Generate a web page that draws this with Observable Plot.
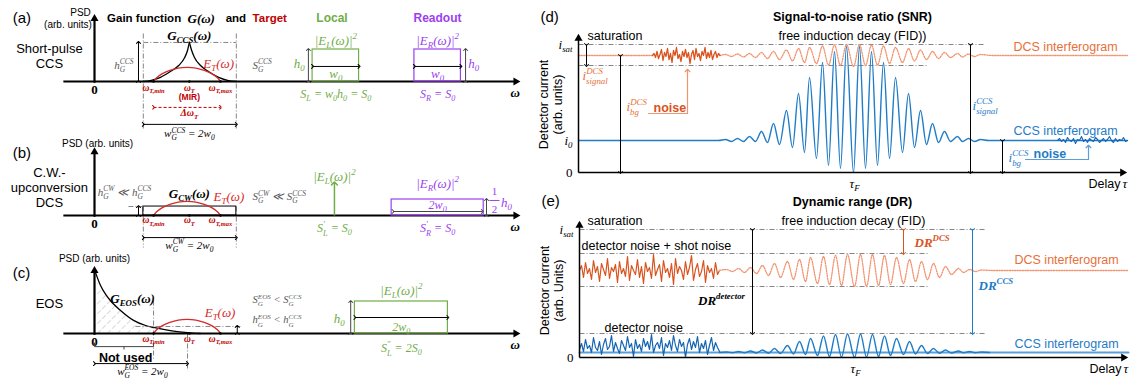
<!DOCTYPE html>
<html>
<head>
<meta charset="utf-8">
<script src="https://cdn.jsdelivr.net/npm/d3@7"></script>
<script src="https://cdn.jsdelivr.net/npm/@observablehq/plot@0.6"></script>
<style>
html,body{margin:0;padding:0;background:#fff;}
#fig{position:relative;width:1135px;height:379px;overflow:hidden;background:#fff;}
</style>
</head>
<body>
<div id="fig"></div>
<script>
// ===== DATA: panels (a)-(c): angular frequency ω in units of w0, PSD in units of h0 =====
const omegaTargets = [1.27, 2.04, 2.71];
const omegaTargetLabels = ["ω_{T,min}", "ω_{T}", "ω_{T,max}"];
const gainWindow = [1.05, 3.05];
const gCcsLeftOmega  = [1.05, 1.2, 1.42, 1.63, 1.81, 1.94, 2.0, 2.04];
const gCcsLeftPsd    = [0, 0.03, 0.13, 0.31, 0.5, 0.75, 0.97, 1.22];
const gCcsRightOmega = [2.04, 2.09, 2.15, 2.28, 2.45, 2.67, 2.88, 3.05];
const gCcsRightPsd   = [1.22, 0.97, 0.75, 0.5, 0.31, 0.13, 0.03, 0];
const gCwHeight = 0.28;
const gEosOmega = [0.02, 0.13, 0.24, 0.34, 0.56, 0.84, 1.10, 1.27, 1.63, 2.0, 2.28];
const gEosPsd   = [1.91, 1.5, 1.22, 1.03, 0.72, 0.41, 0.25, 0.19, 0.09, 0.03, 0];
const gEosHeight = 0.22;
const targetOmega = [1.27, 1.33, 1.45, 1.62, 1.8, 1.99, 2.18, 2.36, 2.53, 2.65, 2.71];
const targetPsd   = [0, 0.11, 0.24, 0.35, 0.42, 0.44, 0.42, 0.35, 0.24, 0.11, 0];
const h0 = 1;
const localBoxA = [4.69, 5.69];
const readoutBoxA = [6.88, 7.88];
const localLineB = 5.16;
const readoutBoxB = [6.39, 8.37];
const readoutHeightB = 0.5;
const localBoxC = [5.6, 7.6];
const notUsedRange = [0, 1.27];
const eosWindow = [0, 2.0];

// ===== DATA: panels (d)-(e): delay τ and detector current, arbitrary units =====
const tauMax = 549;
const tauF = 275;
const iSat = 128, i0Snr = 32, dcsLevelSnr = 117, dcsLowSnr = 107;
const dcsHighDr = 104, dcsLevelDr = 87, dcsLowDr = 71, detNoiseDr = 24, ccsLevelDr = 5;
const extremaTau = [147,153,159,165,171,177,183,189,195,201,208,214,220,226,231,238,244,250,256,262,268,275,281,287,293,299,305,311,317,324,330,336,342,348,354,360,366,372,379,384,390,396,402];
const ccsSnr = [33,31,34,31,36,31,41,30,49,28,62,25,79,20,95,14,110,7,121,4,126,0,126,4,121,7,110,14,95,20,79,25,62,28,49,30,41,31,36,31,34,31,33];
const dcsSnr = [118,116,118.5,115.5,119,115,120,114,121,113,122.5,111.5,124,110,125,109,126.5,107.5,127.5,107,128,106,128,107,127.5,107.5,126.5,109,125,110,124,111.5,122.5,113,121,114,120,115,119,115.5,118.5,116,118];
const ccsDr = [5.5,4.8,6,4.6,6.5,4.5,7.5,4.2,9,4,12,3.5,16,3,19,2,21.5,1,23,0.5,23.5,0,23.5,0.5,23,1,21.5,2,19,3,16,3.5,12,4,9,4.2,7.5,4.5,6.5,4.6,6,4.8,5.5];
const dcsDr = [88,86,89,85,90,84,92,82,94,80,96,78,98,76,100,74,101,73,102,72,103,71,103,71,103,72,102,73,100,74,98,76,96,78,94,80,91,83,89,85,88,86,87.5];
// noise traces (sample start, sample step, values)
const noiseDcsSnrStart = 74, noiseDcsSnrStep = 1.5;
const noiseDcsSnr = [117,119,115,121,114,118,123,112,120,116,124,113,119,110,122,117,125,114,118,111,121,116,123,115,120,109,118,122,113,124,116,119,112,121,117,125,114,120,115,122,113,118,121,115,119,117];
const noiseCcsSnrStart = 479, noiseCcsSnrStep = 2;
const noiseCcsSnr = [32,34,31,33,30,35,32,31,34,29,33,32,36,31,33,30,34,32,31,35,33,30,32,34,31,33,36,32,30,34,31,33,32,35,31,32];
const noiseDrStart = 0, noiseDrStep = 2;
const noiseDcsDr = [87,92,80,95,84,89,78,97,85,91,76,94,88,82,99,79,90,86,93,75,96,84,89,81,101,77,92,87,83,98,80,91,74,95,86,90,79,103,82,88,93,76,97,85,89,80,94,73,99,84,91,87,78,96,83,90,102,77,88,94,81,86,97,75,92,85,89,79,95,83,87];
const noiseCcsDr = [8,14,6,18,9,12,5,20,10,7,16,3,13,19,8,11,22,6,15,9,4,17,12,7,21,10,14,1,18,9,13,6,19,11,16,8,23,5,12,15,9,20,2,14,10,17,7,22,12,6,18,11,15,0,13,19,8,16,10,21,5,14,9,17,3,12,20,7,15,10,6];

// ===== STYLE =====
const SANS = "'Liberation Sans', Arial, sans-serif";
const SERIF = "'Liberation Serif', 'Times New Roman', serif";
const GREEN = "#70ad47", PURPLE = "#9b3ff0", RED = "#c00000", RED_CURVE = "#d42b2b";
const ORANGE_TEXT = "#e8703a", ORANGE_NOISE = "#d9531e", ORANGE_DOT = "#f29470";
const BLUE = "#1f7cc7", BLUE_DARK = "#1565b3", BLUE_LIGHT = "#5a9fd8";
const GRAY = "#595959";

// ===== helpers =====
function txt(x, y, text, o = {}) {
  return Plot.text([{x, y, text}], {x: "x", y: "y", text: "text", fontFamily: SANS, fontSize: 12, fill: "black", ...o});
}
function mtxt(x, y, text, o = {}) {
  return txt(x, y, text, {fontFamily: SERIF, fontStyle: "italic", fontSize: 13, ...o});
}
function seg(x1, y1, x2, y2, o = {}) {
  return Plot.link([{x1, y1, x2, y2}], {x1: "x1", y1: "y1", x2: "x2", y2: "y2", stroke: "black", strokeWidth: 1, ...o});
}
const dbl = (x1, y1, x2, y2, o = {}) => seg(x1, y1, x2, y2, {markerStart: "arrow", markerEnd: "arrow", ...o});
const one = (x1, y1, x2, y2, o = {}) => seg(x1, y1, x2, y2, {markerEnd: "arrow", ...o});
const dashdot = (x1, y1, x2, y2, o = {}) => seg(x1, y1, x2, y2, {stroke: "#666", strokeWidth: 0.8, strokeDasharray: "5,2,1,2", ...o});
const tri = (x, y, rotate) => Plot.dot([{x, y}], {x: "x", y: "y", symbol: "triangle", r: 3, fill: "black", stroke: "none", rotate});
const pts = (xs, ys) => xs.map((x, k) => ({x, y: ys[k]}));
const path = (xs, ys, o = {}) => Plot.line(pts(xs, ys), {x: "x", y: "y", stroke: "black", strokeWidth: 1.3, ...o});
const box = (x1, x2, y1, y2, o = {}) => Plot.rect([{x1, x2, y1, y2}], {x1: "x1", x2: "x2", y1: "y1", y2: "y2", fill: "none", stroke: "black", strokeWidth: 1.2, ...o});
const noiseTau = (start, step, vals) => vals.map((_, k) => start + step * k);

// layout of the left column (pixels)
const originPx = 94, pxPerW0 = 46.5, baselinePx = 81, pxPerH0 = 32, leftW = 540, leftH = 130;
const omegaDomain = [-originPx / pxPerW0, (leftW - originPx) / pxPerW0];
const psdDomain = [(baselinePx - leftH) / pxPerH0, baselinePx / pxPerH0];

function leftPanel(top, marks) {
  return Plot.plot({
    width: leftW, height: leftH, margin: 0,
    x: {domain: omegaDomain, axis: null}, y: {domain: psdDomain, axis: null},
    style: `position:absolute;left:0px;top:${top}px;background:transparent;overflow:visible;`,
    marks: marks.flat()
  });
}
function rightPanel(top, height, marginLeft, marginBottom, yMax, marks) {
  return Plot.plot({
    width: 595, height, marginLeft, marginRight: 595 - marginLeft - tauMax, marginTop: 0, marginBottom,
    x: {domain: [0, tauMax], axis: null}, y: {domain: [0, yMax], axis: null},
    style: `position:absolute;left:540px;top:${top}px;background:transparent;overflow:visible;`,
    marks: marks.flat()
  });
}
function leftAxes(yTop) {
  return [
    seg(-0.67, 0, 9.06, 0, {strokeWidth: 2.2}), tri(9.06, 0, 90),
    seg(0, -0.04, 0, yTop, {strokeWidth: 2.2}), tri(0, yTop, 0),
    txt(0, -0.27, "0", {fontFamily: SERIF, fontWeight: "bold", fontSize: 13}),
    mtxt(9.05, -0.34, "ω", {fontWeight: "bold"}),
    Plot.dot(omegaTargets, {x: d => d, y: () => 0, r: 1.3, fill: "black"})
  ];
}
function targetLabels(y) {
  return omegaTargets.map((w, k) => mtxt(w, y, omegaTargetLabels[k], {fill: RED, fontWeight: "bold", fontSize: 9.5}));
}
const gPeak = d3.max(gCcsLeftPsd);
const midA = (localBoxA[0] + localBoxA[1]) / 2, midRA = (readoutBoxA[0] + readoutBoxA[1]) / 2;
const midRB = (readoutBoxB[0] + readoutBoxB[1]) / 2, midC = (localBoxC[0] + localBoxC[1]) / 2;

// ---------- (a) ----------
const marksA = [
  dashdot(gainWindow[0], 1.5, gainWindow[0], -1.53), dashdot(gainWindow[1], 1.5, gainWindow[1], -1.53),
  dashdot(gainWindow[0], gPeak, gainWindow[1], gPeak),
  path(gCcsLeftOmega, gCcsLeftPsd, {curve: "monotone-x"}),
  path(gCcsRightOmega, gCcsRightPsd, {curve: "monotone-x"}),
  path(targetOmega, targetPsd, {stroke: RED_CURVE, curve: "catmull-rom"}),
  leftAxes(1.96),
  dbl(0.946, 0, 0.946, gPeak),
  dbl(omegaTargets[0], -0.81, omegaTargets[2], -0.81, {stroke: RED, strokeDasharray: "3,2"}),
  dbl(gainWindow[0], -1.34, gainWindow[1], -1.34),
  box(localBoxA[0], localBoxA[1], 0, h0, {stroke: GREEN}),
  box(readoutBoxA[0], readoutBoxA[1], 0, h0, {stroke: PURPLE}),
  dbl(4.60, 0, 4.60, h0, {stroke: "#444"}),
  dbl(localBoxA[0], 0.47, localBoxA[1], 0.47),
  dbl(readoutBoxA[0], 0.47, readoutBoxA[1], 0.47),
  dbl(7.98, 0, 7.98, h0, {stroke: "#444"}),
  txt(-1.76, 1.97, "(a)", {textAnchor: "start", fontSize: 15}),
  txt(-0.30, 2.16, "PSD", {fontSize: 10}),
  txt(-0.57, 1.78, "(arb. units)", {fontSize: 10}),
  txt(-0.97, 1.03, "Short-pulse", {fontSize: 13}),
  txt(-0.97, 0.56, "CCS", {fontSize: 13}),
  txt(0.27, 1.97, "Gain function", {textAnchor: "start", fontWeight: "bold", fontSize: 11.5}),
  mtxt(2.0, 1.97, "G(ω)", {textAnchor: "start", fontWeight: "bold"}),
  txt(2.82, 1.97, "and", {textAnchor: "start", fontWeight: "bold", fontSize: 11.5}),
  txt(3.40, 1.97, "Target", {textAnchor: "start", fontWeight: "bold", fill: RED, fontSize: 11.5}),
  txt(4.77, 1.97, "Local", {textAnchor: "start", fontWeight: "bold", fill: GREEN}),
  txt(6.86, 1.97, "Readout", {textAnchor: "start", fontWeight: "bold", fill: PURPLE}),
  mtxt(2.04, 1.44, "G_{CCS}(ω)", {fontWeight: "bold"}),
  mtxt(2.34, 0.56, "E_{T}(ω)", {textAnchor: "start", fill: RED_CURVE}),
  mtxt(0.84, 0.5, "h^{CCS}_{G}", {textAnchor: "end", fill: GRAY, fontSize: 11}),
  mtxt(3.40, 0.5, "S^{CCS}_{G}", {textAnchor: "start", fill: GRAY, fontSize: 11}),
  targetLabels(-0.19),
  txt(2.04, -0.5, "(MIR)", {fill: RED, fontWeight: "bold", fontSize: 8.5}),
  mtxt(2.04, -0.99, "Δω_{T}", {fill: RED, fontWeight: "bold", fontSize: 10}),
  mtxt(2.04, -1.63, "w^{CCS}_{G} = 2w_{0}", {fontSize: 11}),
  mtxt(midA, 1.28, "|E_{L}(ω)|^{2}", {fill: GREEN}),
  mtxt(4.52, 0.56, "h_{0}", {textAnchor: "end", fill: GREEN}),
  mtxt(midA, 0.25, "w_{0}", {fill: GREEN}),
  mtxt(midA, -0.41, "S_{L} = w_{0}h_{0} = S_{0}", {fill: GREEN, fontSize: 12}),
  mtxt(midRA, 1.28, "|E_{R}(ω)|^{2}", {fill: PURPLE}),
  mtxt(midRA, 0.25, "w_{0}", {fill: PURPLE}),
  mtxt(8.04, 0.56, "h_{0}", {textAnchor: "start", fill: PURPLE}),
  mtxt(midRA, -0.41, "S_{R} = S_{0}", {fill: PURPLE, fontSize: 12})
];

// ---------- (b) ----------
const marksB = [
  dashdot(gainWindow[0], gCwHeight, gainWindow[0], -1.0), dashdot(gainWindow[1], gCwHeight, gainWindow[1], -1.0),
  box(gainWindow[0], gainWindow[1], 0, gCwHeight, {strokeWidth: 1}),
  dashdot(0.73, gCwHeight, gainWindow[0], gCwHeight),
  dbl(0.946, 0, 0.946, gCwHeight),
  path(targetOmega, targetPsd, {stroke: RED_CURVE, curve: "catmull-rom"}),
  leftAxes(1.99),
  dbl(gainWindow[0], -0.69, gainWindow[1], -0.69),
  one(localLineB, 0, localLineB, h0, {stroke: GREEN, strokeWidth: 1.5}),
  box(readoutBoxB[0], readoutBoxB[1], 0, readoutHeightB, {stroke: PURPLE}),
  dbl(6.42, 0.125, 8.34, 0.125, {stroke: "#444"}),
  dbl(8.43, 0, 8.43, readoutHeightB, {stroke: "#444"}),
  seg(8.49, 0.47, 8.71, 0.47, {stroke: PURPLE}),
  txt(-1.76, 1.94, "(b)", {textAnchor: "start", fontSize: 15}),
  txt(0.065, 2.25, "PSD (arb. units)", {fontSize: 10}),
  txt(-0.97, 1.34, "C.W.-", {fontSize: 13}),
  txt(-0.97, 0.875, "upconversion", {fontSize: 13}),
  txt(-0.97, 0.41, "DCS", {fontSize: 13}),
  mtxt(0.645, 0.72, "h^{CW}_{G} ≪ h^{CCS}_{G}", {fill: GRAY, fontSize: 11}),
  mtxt(2.04, 0.69, "G_{CW}(ω)", {fontWeight: "bold"}),
  mtxt(2.56, 0.59, "E_{T}(ω)", {textAnchor: "start", fill: RED_CURVE}),
  mtxt(3.40, 0.59, "S^{CW}_{G} ≪ S^{CCS}_{G}", {textAnchor: "start", fill: GRAY, fontSize: 11}),
  targetLabels(-0.15),
  mtxt(2.04, -0.93, "w^{CW}_{G} = 2w_{0}", {fontSize: 11}),
  mtxt(localLineB, 1.22, "|E_{L}(ω)|^{2}", {fill: GREEN}),
  mtxt(localLineB, -0.41, "S^{′}_{L} = S_{0}", {fill: GREEN, fontSize: 12}),
  mtxt(midRB, 1.0, "|E_{R}(ω)|^{2}", {fill: PURPLE}),
  mtxt(midRB, 0.31, "2w_{0}", {fill: PURPLE, fontSize: 12}),
  txt(8.6, 0.74, "1", {fill: PURPLE, fontFamily: SERIF, fontSize: 11}),
  txt(8.6, 0.2, "2", {fill: PURPLE, fontFamily: SERIF, fontSize: 11}),
  mtxt(8.74, 0.4, "h_{0}", {textAnchor: "start", fill: PURPLE}),
  mtxt(midRB, -0.41, "S^{′}_{R} = S_{0}", {fill: PURPLE, fontSize: 12})
];

// ---------- (c) ----------
const hatchN = gEosOmega.indexOf(notUsedRange[1]) + 1;
const marksC = [
  Plot.areaY(pts(gEosOmega.slice(0, hatchN), gEosPsd.slice(0, hatchN)), {x: "x", y: "y", fill: "url(#hatch)", curve: "monotone-x"}),
  path(gEosOmega, gEosPsd, {curve: "monotone-x"}),
  dashdot(0.88, gEosHeight, 3.18, gEosHeight),
  dbl(3.07, 0, 3.07, gEosHeight),
  dashdot(notUsedRange[1], 1.03, notUsedRange[1], -0.78),
  dashdot(eosWindow[1], 0, eosWindow[1], -1.16),
  path(targetOmega, targetPsd, {stroke: RED_CURVE, curve: "catmull-rom"}),
  leftAxes(1.96),
  Plot.line(pts([notUsedRange[0], notUsedRange[0], notUsedRange[1], notUsedRange[1]], [-0.3, -0.41, -0.41, -0.3]), {x: "x", y: "y", stroke: "#444", strokeWidth: 1}),
  seg((notUsedRange[0] + notUsedRange[1]) / 2, -0.41, (notUsedRange[0] + notUsedRange[1]) / 2, -0.5, {stroke: "#444"}),
  dbl(eosWindow[0], -0.94, eosWindow[1], -0.94),
  box(localBoxC[0], localBoxC[1], 0, h0, {stroke: GREEN}),
  dbl(5.51, 0, 5.51, h0, {stroke: "#444"}),
  dbl(localBoxC[0], 0.5, localBoxC[1], 0.5),
  txt(-1.76, 1.9, "(c)", {textAnchor: "start", fontSize: 15}),
  txt(0, 2.34, "PSD (arb. units)", {fontSize: 10}),
  txt(-0.97, 0.94, "EOS", {fontSize: 13}),
  mtxt(0.34, 1.09, "G_{EOS}(ω)", {textAnchor: "start", fontWeight: "bold"}),
  mtxt(2.37, 0.66, "E_{T}(ω)", {textAnchor: "start", fill: RED_CURVE}),
  mtxt(3.40, 1.05, "S^{EOS}_{G} < S^{CCS}_{G}", {textAnchor: "start", fill: GRAY, fontSize: 10.5}),
  mtxt(3.40, 0.42, "h^{EOS}_{G} < h^{CCS}_{G}", {textAnchor: "start", fill: GRAY, fontSize: 10.5}),
  targetLabels(-0.17),
  txt(0.67, -0.75, "Not used", {fontWeight: "bold", fontSize: 12.5}),
  mtxt(1.03, -1.18, "w^{EOS}_{G} = 2w_{0}", {fontSize: 11}),
  mtxt(midC, 1.34, "|E_{L}(ω)|^{2}", {fill: GREEN}),
  mtxt(5.38, 0.47, "h_{0}", {textAnchor: "end", fill: GREEN}),
  mtxt(midC, 0.2, "2w_{0}", {fill: GREEN, fontSize: 12}),
  mtxt(midC, -0.47, "S^{″}_{L} = 2S_{0}", {fill: GREEN, fontSize: 12})
];

// ---------- (d) ----------
const DOT = {stroke: ORANGE_DOT, strokeWidth: 1.3, strokeDasharray: "1.3,1.3"};
const noiseDcsSnrTau = noiseTau(noiseDcsSnrStart, noiseDcsSnrStep, noiseDcsSnr);
const lastNoiseTau = noiseDcsSnrTau[noiseDcsSnrTau.length - 1];
function rightAxes(yTop) {
  return [
    seg(0, 0, tauMax - 5, 0, {strokeWidth: 1.5}), tri(tauMax - 5, 0, 90),
    seg(0, 0, 0, yTop, {strokeWidth: 1.5}), tri(0, yTop, 0),
    mtxt(-6, 0, "0", {textAnchor: "end", fontStyle: "normal"}),
    mtxt(-6, iSat, "i_{sat}", {textAnchor: "end"}),
    mtxt(tauF + 1, -11, "τ_{F}"),
    txt(tauMax - 7, -11, "Delay", {textAnchor: "end", fontSize: 12.5}),
    mtxt(tauMax - 5, -11, "τ", {textAnchor: "start"})
  ];
}
const marksD = [
  dashdot(0, iSat, 407, iSat),
  dashdot(0, dcsLowSnr, 349, dcsLowSnr),
  path([0, noiseDcsSnrStart], [dcsLevelSnr, dcsLevelSnr], DOT),
  path([lastNoiseTau, ...extremaTau, 414, tauMax], [dcsLevelSnr, ...dcsSnr, dcsLevelSnr, dcsLevelSnr], {...DOT, curve: "monotone-x"}),
  path(noiseDcsSnrTau, noiseDcsSnr, {stroke: ORANGE_NOISE, strokeWidth: 1.3}),
  path([0, 140, ...extremaTau, 410, tauMax], [i0Snr, i0Snr, ...ccsSnr, i0Snr, i0Snr], {stroke: BLUE, strokeWidth: 1.4, curve: "monotone-x"}),
  path(noiseTau(noiseCcsSnrStart, noiseCcsSnrStep, noiseCcsSnr), noiseCcsSnr, {stroke: BLUE_DARK, strokeWidth: 1.1}),
  rightAxes(134),
  dbl(8, iSat, 8, dcsLowSnr),
  dbl(42, dcsLevelSnr, 42, 0),
  Plot.line(pts([70, 109, 109], [59, 59, 102]), {x: "x", y: "y", stroke: ORANGE_DOT, strokeWidth: 1.2, markerEnd: "arrow"}),
  dbl(392, iSat, 392, 0),
  dbl(424, i0Snr, 424, 0),
  Plot.line(pts([447, 510, 510], [13, 13, 26]), {x: "x", y: "y", stroke: BLUE_LIGHT, strokeWidth: 1.2, markerEnd: "arrow"}),
  txt(-38, 155, "(d)", {textAnchor: "start", fontSize: 15}),
  txt(-35, 68, "Detector current", {rotate: -90, fontSize: 12.5}),
  txt(-21, 68, "(arb. units)", {rotate: -90, fontSize: 12.5}),
  txt(tauF - 1, 156, "Signal-to-noise ratio (SNR)", {fontWeight: "bold", fontSize: 12.5}),
  txt(tauF - 1, 137, "free induction decay (FID))", {fontSize: 12.5}),
  txt(9, 137, "saturation", {textAnchor: "start", fontSize: 12.5}),
  mtxt(-6, i0Snr, "i_{0}", {textAnchor: "end"}),
  mtxt(4, 97, "i^{DCS}_{signal}", {textAnchor: "start", fill: ORANGE_TEXT}),
  mtxt(48, 66, "i^{DCS}_{bg}", {textAnchor: "start", fill: ORANGE_TEXT}),
  txt(75, 65, "noise", {textAnchor: "start", fontWeight: "bold", fill: ORANGE_NOISE, fontSize: 12.5}),
  mtxt(394, 67, "i^{CCS}_{signal}", {textAnchor: "start", fill: BLUE}),
  txt(435, 126, "DCS interferogram", {textAnchor: "start", fill: ORANGE_TEXT, fontSize: 12.5}),
  txt(435, 42, "CCS interferogram", {textAnchor: "start", fill: BLUE, fontSize: 12.5}),
  mtxt(430, 15, "i^{CCS}_{bg}", {textAnchor: "start", fill: BLUE}),
  txt(455, 19, "noise", {textAnchor: "start", fontWeight: "bold", fill: BLUE, fontSize: 12.5})
];

// ---------- (e) ----------
const noiseDrTau = noiseTau(noiseDrStart, noiseDrStep, noiseDcsDr);
const lastDrTau = noiseDrTau[noiseDrTau.length - 1];
const marksE = [
  dashdot(0, iSat, 407, iSat),
  dashdot(0, dcsHighDr, 349, dcsHighDr),
  dashdot(0, dcsLowDr, 349, dcsLowDr),
  dashdot(0, detNoiseDr, 407, detNoiseDr),
  path([0, tauMax], [ccsLevelDr, ccsLevelDr], {stroke: BLUE_LIGHT, strokeWidth: 2}),
  path([lastDrTau, ...extremaTau, 410], [ccsLevelDr, ...ccsDr, ccsLevelDr], {stroke: BLUE, strokeWidth: 1.4, curve: "monotone-x"}),
  path(noiseDrTau, noiseCcsDr, {stroke: BLUE_DARK, strokeWidth: 1.2}),
  path(noiseDrTau, noiseDcsDr, {stroke: ORANGE_NOISE, strokeWidth: 1.2}),
  path([lastDrTau, ...extremaTau, 414, tauMax], [dcsLevelDr, ...dcsDr, dcsLevelDr, dcsLevelDr], {...DOT, curve: "monotone-x"}),
  rightAxes(132),
  dbl(173, iSat, 173, detNoiseDr),
  dbl(324, iSat, 324, dcsHighDr, {stroke: ORANGE_NOISE}),
  dbl(393, iSat, 393, detNoiseDr, {stroke: BLUE}),
  txt(-38, 156, "(e)", {textAnchor: "start", fontSize: 15}),
  txt(-35, 67, "Detector current", {rotate: -90, fontSize: 12.5}),
  txt(-21, 67, "(arb. Units)", {rotate: -90, fontSize: 12.5}),
  txt(tauF - 2, 156, "Dynamic range (DR)", {fontWeight: "bold", fontSize: 12.5}),
  txt(tauF - 1, 137, "free induction decay (FID)", {fontSize: 12.5}),
  txt(8, 137, "saturation", {textAnchor: "start", fontSize: 12.5}),
  txt(2, 112, "detector noise + shot noise", {textAnchor: "start", fontSize: 12.5}),
  mtxt(142, 57, "DR^{detector}", {fontWeight: "bold"}),
  txt(25, 30, "detector noise", {textAnchor: "start", fontSize: 12.5}),
  mtxt(335, 115, "DR^{DCS}", {textAnchor: "start", fontWeight: "bold", fill: ORANGE_NOISE}),
  mtxt(399, 72, "DR^{CCS}", {textAnchor: "start", fontWeight: "bold", fill: BLUE}),
  txt(435, 98, "DCS interferogram", {textAnchor: "start", fill: ORANGE_TEXT, fontSize: 12.5}),
  txt(435, 14, "CCS interferogram", {textAnchor: "start", fill: BLUE, fontSize: 12.5})
];

// ===== render =====
const fig = document.getElementById("fig");
const svgA = leftPanel(0, marksA);
const svgB = leftPanel(134, marksB);
const svgC = leftPanel(252, marksC);
const svgD = rightPanel(0, 190, 38, 18, 172, marksD);
const svgE = rightPanel(190, 189, 39, 22, 167, marksE);
for (const s of [svgA, svgB, svgC, svgD, svgE]) fig.appendChild(s);

// hatch pattern for the "not used" region
const defs = d3.select(svgC).insert("defs", ":first-child");
defs.append("pattern").attr("id", "hatch").attr("width", 7).attr("height", 7)
  .attr("patternUnits", "userSpaceOnUse").attr("patternTransform", "rotate(45)")
  .append("line").attr("x1", 0).attr("y1", 0).attr("x2", 0).attr("y2", 7)
  .attr("stroke", "#b5b5b5").attr("stroke-width", 1).attr("stroke-dasharray", "3,2");

// sub/superscript markup -> tspans
function mathify(svg) {
  const NS = "http://www.w3.org/2000/svg";
  const re = /\^\{([^}]*)\}_\{([^}]*)\}|_\{([^}]*)\}\^\{([^}]*)\}|\^\{([^}]*)\}|_\{([^}]*)\}|([^_^]+)/g;
  svg.querySelectorAll("text").forEach((t) => {
    if (t.children.length) return;
    const s = t.textContent;
    if (!/[_^]\{/.test(s)) return;
    const fs = parseFloat(getComputedStyle(t).fontSize) || 12;
    t.textContent = "";
    let cur = 0, pend = 0, m;
    re.lastIndex = 0;
    const add = (str, off, small, dx = 0) => {
      const sp = document.createElementNS(NS, "tspan");
      sp.textContent = str;
      sp.setAttribute("dy", (off - cur).toFixed(2));
      cur = off;
      if (small) sp.setAttribute("font-size", (fs * 0.68).toFixed(2));
      if (dx + pend) sp.setAttribute("dx", (dx + pend).toFixed(2));
      pend = 0;
      t.appendChild(sp);
      return sp;
    };
    while ((m = re.exec(s))) {
      if (m[1] !== undefined || m[3] !== undefined) {
        const sup = m[1] !== undefined ? m[1] : m[4];
        const sub = m[1] !== undefined ? m[2] : m[3];
        const a = add(sup, -0.42 * fs, true);
        const wa = a.getComputedTextLength();
        const b = add(sub, 0.3 * fs, true, -wa);
        const wb = b.getComputedTextLength();
        if (wb < wa) pend = wa - wb;
      } else if (m[5] !== undefined) add(m[5], -0.42 * fs, true);
      else if (m[6] !== undefined) add(m[6], 0.25 * fs, true);
      else add(m[7], 0, false);
    }
  });
}
for (const s of [svgA, svgB, svgC, svgD, svgE]) mathify(s);
</script>
</body>
</html>
